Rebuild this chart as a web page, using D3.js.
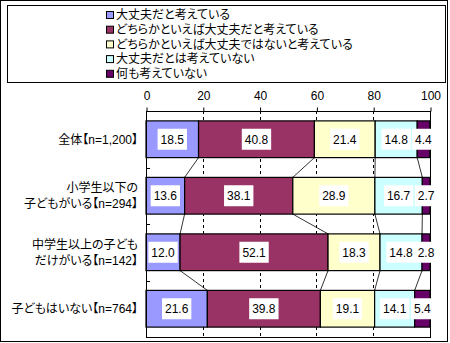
<!DOCTYPE html>
<html>
<head>
<meta charset="utf-8">
<script src="https://cdn.jsdelivr.net/npm/d3@7"></script>
<style>
  body { margin: 0; background: #fff; }
  svg { display: block; }
  text { font-family: "Liberation Sans", "Noto Sans CJK JP", sans-serif; fill: #000; }
  .jp { font-feature-settings: "palt" 1; }
</style>
</head>
<body>
<svg id="chart" width="450" height="343"></svg>
<script>
// Category labels (each entry holds the lines of one label)
const categories = [
  ["全体【n=1,200】"],
  ["小学生以下の", "子どもがいる【n=294】"],
  ["中学生以上の子ども", "だけがいる【n=142】"],
  ["子どもはいない【n=764】"]
];
const seriesNames = [
  "大丈夫だと考えている",
  "どちらかといえば大丈夫だと考えている",
  "どちらかといえば大丈夫ではないと考えている",
  "大丈夫だとは考えていない",
  "何も考えていない"
];
const seriesColors = ["#9999FF", "#993366", "#FFFFCC", "#CCFFFF", "#660066"];
// Percentages per category, one array per series
const s1 = [18.5, 13.6, 12.0, 21.6];
const s2 = [40.8, 38.1, 52.1, 39.8];
const s3 = [21.4, 28.9, 18.3, 19.1];
const s4 = [14.8, 16.7, 14.8, 14.1];
const s5 = [4.4, 2.7, 2.8, 5.4];
const tickValues = [0, 20, 40, 60, 80, 100];

const series = [s1, s2, s3, s4, s5];
const svg = d3.select("#chart");

// outer frame
svg.append("rect").attr("x", 0.5).attr("y", 0.5).attr("width", 447).attr("height", 341)
  .attr("fill", "#fff").attr("stroke", "#000");

// legend
const lg = svg.append("g");
lg.append("rect").attr("x", 7.5).attr("y", 5.5).attr("width", 438).attr("height", 77)
  .attr("fill", "#fff").attr("stroke", "#000");
seriesNames.forEach((name, i) => {
  const y = 15 + i * 14.7;
  lg.append("rect").attr("x", 106.5).attr("y", y - 3.5).attr("width", 7).attr("height", 7)
    .attr("fill", seriesColors[i]).attr("stroke", "#000");
  lg.append("text").attr("class", "jp").attr("x", 116).attr("y", y).attr("dy", "0.36em")
    .attr("font-size", 12).text(name);
});

const x = d3.scaleLinear().domain([0, 100]).range([146, 430]);
const idx = categories.map((_, i) => i);
const y = d3.scaleBand().domain(idx).range([111, 337]).paddingInner(0.35).paddingOuter(0.175);

// stacked data
const rows = idx.map(i => {
  let c = 0;
  return series.map((s, k) => { const r = { k, i, v: s[i], x0: c, x1: c + s[i] }; c += s[i]; return r; });
});

// dashed gridlines
svg.append("g").selectAll("line").data(tickValues.filter(t => t > 0 && t < 100)).join("line")
  .attr("x1", d => Math.round(x(d)) + 0.5).attr("x2", d => Math.round(x(d)) + 0.5)
  .attr("y1", 111).attr("y2", 337)
  .attr("stroke", "#000").attr("stroke-dasharray", "3,3");

// top axis
const xAxis = d3.axisTop(x).tickValues(tickValues).tickSize(4).tickPadding(8);
const ax = svg.append("g").attr("transform", "translate(0.5,111.5)").call(xAxis);
ax.select(".domain").remove();
ax.selectAll("text").attr("font-size", 12).attr("font-family", "Liberation Sans, sans-serif");
ax.selectAll("line").attr("stroke", "#000");

// series connector lines between adjacent bars
const conn = svg.append("g");
for (let i = 0; i < rows.length - 1; i++) {
  for (let k = 0; k < series.length - 1; k++) {
    conn.append("line")
      .attr("x1", x(rows[i][k].x1)).attr("y1", y(i) + y.bandwidth())
      .attr("x2", x(rows[i + 1][k].x1)).attr("y2", y(i + 1))
      .attr("stroke", "#000").attr("stroke-width", 0.8);
  }
}

// bars
const bars = svg.append("g");
rows.forEach(r => {
  bars.selectAll(null).data(r).join("rect")
    .attr("x", d => x(d.x0)).attr("y", y(r[0].i))
    .attr("width", d => x(d.x1) - x(d.x0)).attr("height", y.bandwidth())
    .attr("fill", d => seriesColors[d.k]).attr("stroke", "#000").attr("stroke-width", 1.2);
});

// plot frame
svg.append("rect").attr("x", 146.5).attr("y", 111.5).attr("width", 284).attr("height", 226)
  .attr("fill", "none").attr("stroke", "#000");

// category ticks
svg.append("g").selectAll("line").data([1, 2, 3]).join("line")
  .attr("x1", 146).attr("x2", 150)
  .attr("y1", d => Math.round(y(d) - y.step() * y.paddingInner() / 2) + 0.5)
  .attr("y2", d => Math.round(y(d) - y.step() * y.paddingInner() / 2) + 0.5)
  .attr("stroke", "#000");

// value labels with white boxes
const lab = svg.append("g");
rows.flat().forEach(d => {
  const cx = x((d.x0 + d.x1) / 2);
  const cy = y(d.i) + y.bandwidth() / 2;
  const g = lab.append("g");
  const t = g.append("text").attr("x", cx).attr("y", cy).attr("dy", "0.36em")
    .attr("text-anchor", "middle").attr("font-size", 12).text(d.v.toFixed(1));
  const w = t.node().getComputedTextLength();
  g.insert("rect", "text").attr("x", cx - w / 2 - 3).attr("y", cy - 10.5)
    .attr("width", w + 6).attr("height", 21).attr("fill", "#fff");
});

// category labels
const cl = svg.append("g");
categories.forEach((lines, i) => {
  const cy = y(i) + y.bandwidth() / 2;
  lines.forEach((ln, j) => {
    cl.append("text").attr("class", "jp").attr("x", 138).attr("y", cy + (j - (lines.length - 1) / 2) * 16)
      .attr("dy", "0.36em").attr("text-anchor", "end").attr("font-size", 12).text(ln);
  });
});
</script>
</body>
</html>
